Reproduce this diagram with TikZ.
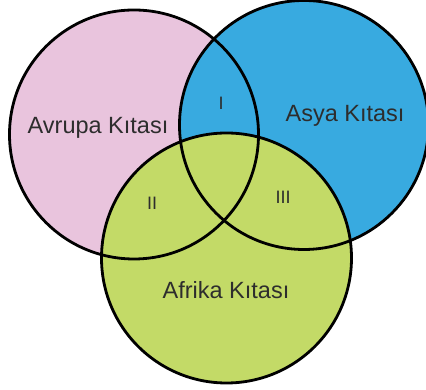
\documentclass[tikz,border=0pt]{standalone}
\usepackage{fontspec}
\setmainfont{Liberation Sans}
\definecolor{avrupa}{RGB}{233,196,221}
\definecolor{asya}{RGB}{56,170,224}
\definecolor{afrika}{RGB}{195,218,103}
\definecolor{yazi}{RGB}{45,45,45}
\tikzset{
  kita/.style={text=yazi, font=\fontsize{23.5}{28}\selectfont, inner sep=0pt},
  bolge/.style={text=yazi, font=\fontsize{18}{22}\selectfont, inner sep=0pt},
  cember/.style={line width=2.8pt}
}
\begin{document}
\begin{tikzpicture}[x=1pt,y=1pt]
\useasboundingbox (0,0) rectangle (426,390);
\coordinate (cav) at (134,255.5);
\coordinate (cas) at (304,265);
\coordinate (caf) at (226.5,132);
\fill[avrupa] (cav) circle (124.5);
\fill[asya] (cas) circle (124.5);
\fill[afrika] (caf) circle (125);
\draw[cember] (cav) circle (124.5);
\draw[cember] (cas) circle (124.5);
\draw[cember] (caf) circle (125);

\node[kita] (avrupa) at (98,262) {Avrupa Kıtası};
\node[kita] (asya) at (345,274) {Asya Kıtası};
\node[kita] (afrika) at (226,100) {Afrika Kıtası};
\node[bolge] (b1) at (221,287) {I};
\node[bolge] (b2) at (152,187) {II};
\node[bolge] (b3) at (283,193) {III};

\end{tikzpicture}
\end{document}
